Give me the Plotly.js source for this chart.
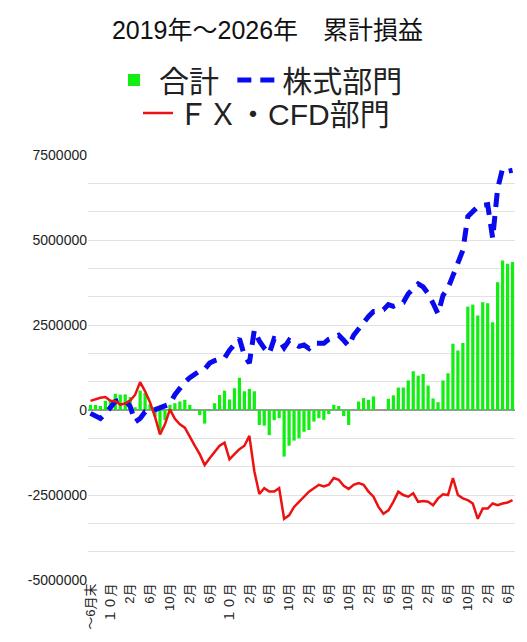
<!DOCTYPE html>
<html><head><meta charset="utf-8">
<script src="https://cdn.plot.ly/plotly-3.0.1.min.js"></script>
<style>html,body{margin:0;padding:0;background:#fff}#chart{width:527px;height:642px}</style>
</head><body><div id="chart"></div>
<script>
const months = [
 "2019-06","2019-07","2019-08","2019-09","2019-10","2019-11","2019-12",
 "2020-01","2020-02","2020-03","2020-04","2020-05","2020-06","2020-07","2020-08","2020-09","2020-10","2020-11","2020-12",
 "2021-01","2021-02","2021-03","2021-04","2021-05","2021-06","2021-07","2021-08","2021-09","2021-10","2021-11","2021-12",
 "2022-01","2022-02","2022-03","2022-04","2022-05","2022-06","2022-07","2022-08","2022-09","2022-10","2022-11","2022-12",
 "2023-01","2023-02","2023-03","2023-04","2023-05","2023-06","2023-07","2023-08","2023-09","2023-10","2023-11","2023-12",
 "2024-01","2024-02","2024-03","2024-04","2024-05","2024-06","2024-07","2024-08","2024-09","2024-10","2024-11","2024-12",
 "2025-01","2025-02","2025-03","2025-04","2025-05","2025-06","2025-07","2025-08","2025-09","2025-10","2025-11","2025-12",
 "2026-01","2026-02","2026-03","2026-04","2026-05","2026-06","2026-07"
];
const tickMonths = ["2019-06","2019-10","2020-02","2020-06","2020-10","2021-02","2021-06","2021-10","2022-02","2022-06","2022-10",
 "2023-02","2023-06","2023-10","2024-02","2024-06","2024-10","2025-02","2025-06","2025-10","2026-02","2026-06"];
const tickLabels = ["～6月末","１０月","2月","6月","10月","2月","6月","１０月","2月","6月","10月",
 "2月","6月","10月","2月","6月","10月","2月","6月","10月","2月","6月"];

const totalPL = [
 150000,150000,120000,270000,300000,480000,450000,460000,380000,80000,
 570000,500000,170000,-200000,-600000,-300000,150000,200000,250000,300000,
 150000,30000,-150000,-400000,-30000,200000,440000,570000,310000,640000,
 950000,550000,620000,550000,-440000,-460000,-740000,-300000,-240000,-1370000,
 -1050000,-900000,-830000,-640000,-590000,-340000,-240000,-290000,-120000,150000,
 120000,-180000,-440000,0,250000,350000,300000,400000,0,0,
 330000,430000,660000,660000,870000,1140000,1010000,1060000,720000,340000,
 230000,870000,1080000,1950000,1750000,1970000,3040000,3100000,2780000,3170000,
 3140000,2580000,3760000,4400000,4300000,4350000
];
const stockPL = [
 -100000,-170000,-250000,-100000,50000,250000,300000,300000,100000,-350000,
 -250000,-50000,-50000,0,50000,120000,180000,450000,650000,820000,
 950000,1050000,1150000,1200000,1380000,1450000,1500000,1530000,1760000,1940000,
 2100000,1600000,1380000,2350000,2030000,1820000,1660000,2100000,2060000,1830000,
 2050000,1950000,1870000,1910000,1810000,1960000,1960000,1960000,2080000,2150000,
 2200000,2050000,1880000,2200000,2400000,2550000,2750000,2900000,2900000,2950000,
 3100000,3050000,3100000,3160000,3420000,3590000,3710000,3620000,3420000,3140000,
 2830000,3370000,3580000,3950000,4350000,4700000,5690000,5850000,5980000,6020000,
 6040000,5050000,6510000,7100000,7020000,7050000
];
const fxPL = [
 270000,320000,360000,380000,270000,260000,160000,190000,280000,450000,
 820000,550000,220000,-200000,-720000,-420000,20000,-260000,-420000,-520000,
 -800000,-1050000,-1300000,-1620000,-1420000,-1250000,-1050000,-960000,-1450000,-1300000,
 -1150000,-1050000,-760000,-1800000,-2470000,-2300000,-2400000,-2400000,-2300000,-3200000,
 -3100000,-2850000,-2700000,-2550000,-2400000,-2300000,-2200000,-2250000,-2200000,-2000000,
 -2050000,-2230000,-2320000,-2200000,-2150000,-2200000,-2400000,-2550000,-2850000,-3050000,
 -2950000,-2700000,-2400000,-2500000,-2550000,-2450000,-2700000,-2680000,-2700000,-2800000,
 -2600000,-2480000,-2500000,-2000000,-2500000,-2600000,-2650000,-2750000,-3200000,-2900000,
 -2900000,-2750000,-2800000,-2750000,-2720000,-2650000
];
const yTickVals = [-5000000,-4166667,-3333333,-2500000,-1666667,-833333,0,833333,1666667,2500000,3333333,4166667,5000000,5833333,6666667,7500000];
const yTickText = ["-5000000","","","-2500000","","","0","","","2500000","","","5000000","","","7500000"];

const FONT = 'Arial, "Liberation Sans", "Noto Sans CJK JP", sans-serif';

const traces = [
 {type:'bar', x: months, y: totalPL, name:'合計\u00a0', marker:{color:'#11ee11'}, legend:'legend'},
 {type:'scatter', mode:'lines', x: months, y: stockPL, name:'株式部門',
  line:{color:'#0a0aee', width:5, dash:'14px,9px'}, legend:'legend'},
 {type:'scatter', mode:'lines', x: months, y: fxPL, name:'ＦＸ・CFD部門',
  line:{color:'#ee1111', width:2.5}, legend:'legend2'}
];

const layout = {
 width:527, height:642,
 margin:{l:88, r:12, t:155, b:62},
 paper_bgcolor:'#fff', plot_bgcolor:'#fff',
 font:{family:FONT, color:'#222'},
 title:{text:'2019年～2026年　累計損益', font:{size:25, color:'#111', family:FONT},
   x:0.5+4/527, xref:'container', xanchor:'center', y:1-30/642, yref:'container', yanchor:'middle'},
 bargap:0.35,
 showlegend:true,
 hovermode:false,
 xaxis:{type:'category', categoryorder:'array', categoryarray: months, range:[-0.5, 85.5],
   tickmode:'array', tickvals: tickMonths, ticktext: tickLabels, tickangle:-90,
   tickfont:{size:13, color:'#222'}, showgrid:false, showline:false, ticks:'', zeroline:false, automargin:false},
 yaxis:{range:[-5000000, 7500000], tickmode:'array', tickvals: yTickVals, ticktext: yTickText,
   showgrid:true, gridcolor:'#e2e2e2', gridwidth:1, zeroline:true, zerolinecolor:'#999', zerolinewidth:1.5,
   tickfont:{size:14, color:'#222'}, ticks:'', showline:false, automargin:false},
 legend:{orientation:'h', xref:'container', x:109/527, xanchor:'left', yref:'container', y:1-80/642, yanchor:'middle',
   font:{size:30, color:'#222'}, itemwidth:40, traceorder:'normal', bgcolor:'rgba(0,0,0,0)'},
 legend2:{orientation:'h', xref:'container', x:138/527, xanchor:'left', yref:'container', y:1-113/642, yanchor:'middle',
   font:{size:30, color:'#222'}, bgcolor:'rgba(0,0,0,0)'}
};

Plotly.newPlot('chart', traces, layout, {staticPlot:true, displayModeBar:false});
</script>
</body></html>
